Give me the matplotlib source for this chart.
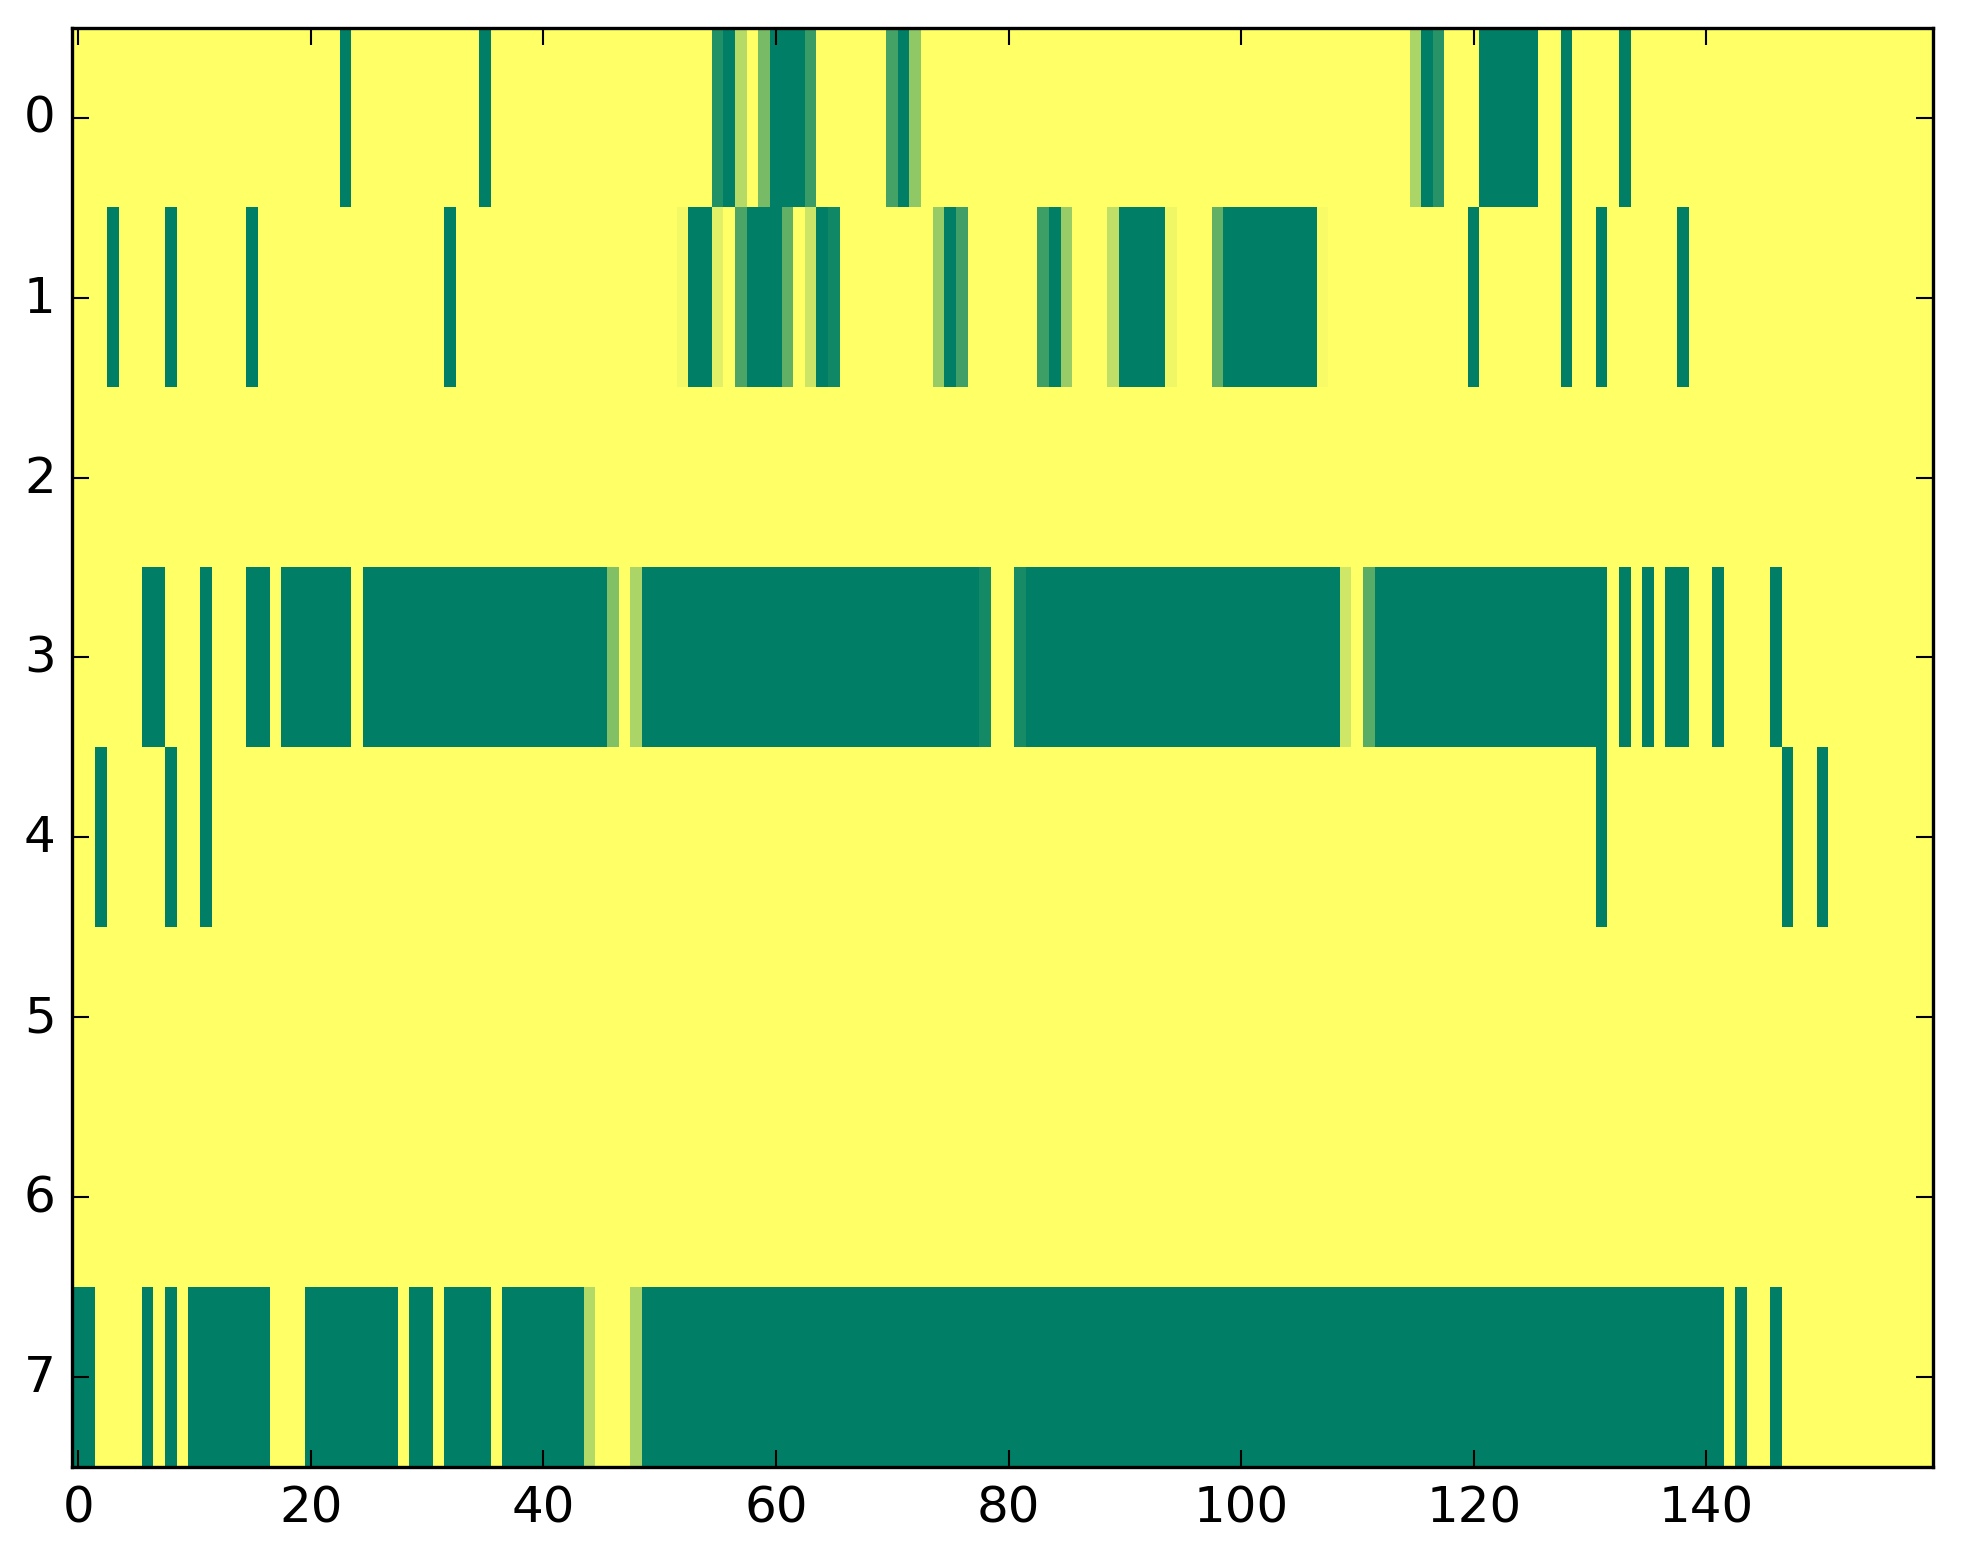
import numpy as np
import matplotlib
matplotlib.use("Agg")
import matplotlib.pyplot as plt

plt.style.use("classic")

N_ROWS = 8
N_COLS = 160

# runs of (first column, last column, value); everything else is 0
row0 = [(23, 23, 1), (35, 35, 1), (55, 55, 0.87), (56, 56, 1), (57, 57, 0.29),
        (59, 59, 0.53), (60, 62, 1), (63, 63, 0.77), (70, 70, 0.73), (71, 71, 1),
        (72, 72, 0.43), (115, 115, 0.33), (116, 116, 1), (117, 117, 0.84),
        (121, 125, 1), (128, 128, 1), (133, 133, 1)]
row1 = [(3, 3, 1), (8, 8, 1), (15, 15, 1), (32, 32, 1), (52, 52, 0.05),
        (53, 54, 1), (55, 55, 0.12), (57, 57, 0.70), (58, 60, 1), (61, 61, 0.62),
        (63, 63, 0.2), (64, 64, 1), (65, 65, 0.93), (74, 74, 0.41), (75, 75, 1),
        (76, 76, 0.75), (83, 83, 0.76), (84, 84, 1), (85, 85, 0.4), (89, 89, 0.25),
        (90, 93, 1), (94, 94, 0.06), (98, 98, 0.62), (99, 106, 1), (107, 107, 0.03),
        (120, 120, 1), (128, 128, 1), (131, 131, 1), (138, 138, 1)]
row2 = []
row3 = [(6, 7, 1), (11, 11, 1), (15, 16, 1), (18, 23, 1), (25, 45, 1),
        (46, 46, 0.49), (48, 48, 0.33), (49, 77, 1), (78, 78, 0.92), (81, 81, 0.91),
        (82, 108, 1), (109, 109, 0.19), (111, 111, 0.65), (112, 131, 1),
        (133, 133, 1), (135, 135, 1), (137, 138, 1), (141, 141, 1), (146, 146, 1)]
row4 = [(2, 2, 1), (8, 8, 1), (11, 11, 1), (131, 131, 1), (147, 147, 1), (150, 150, 1)]
row5 = []
row6 = []
row7 = [(0, 1, 1), (6, 6, 1), (8, 8, 1), (10, 16, 1), (20, 27, 1), (29, 30, 1),
        (32, 35, 1), (37, 43, 1), (44, 44, 0.3), (48, 48, 0.33), (49, 141, 1),
        (143, 143, 1), (146, 146, 1)]

rows = [row0, row1, row2, row3, row4, row5, row6, row7]

data = np.zeros((N_ROWS, N_COLS))
for r, runs in enumerate(rows):
    for start, end, val in runs:
        data[r, start:end + 1] = val

DPI = 300
fig = plt.figure(figsize=(1963 / DPI, 1564 / DPI), dpi=DPI)
ax = fig.add_axes([0.0369, 0.0612, 0.9479, 0.9205])
ax.imshow(data, cmap="summer_r", vmin=0, vmax=1, aspect="auto", interpolation="nearest")
ax.set_xlim(-0.5, N_COLS - 0.5)
ax.set_ylim(N_ROWS - 0.5, -0.5)
ax.set_xticks(range(0, 141, 20))
ax.set_yticks(range(N_ROWS))
ax.tick_params(labelsize=12)
for sp in ax.spines.values():
    sp.set_linewidth(0.8)

fig.savefig("out.png", dpi=DPI)
